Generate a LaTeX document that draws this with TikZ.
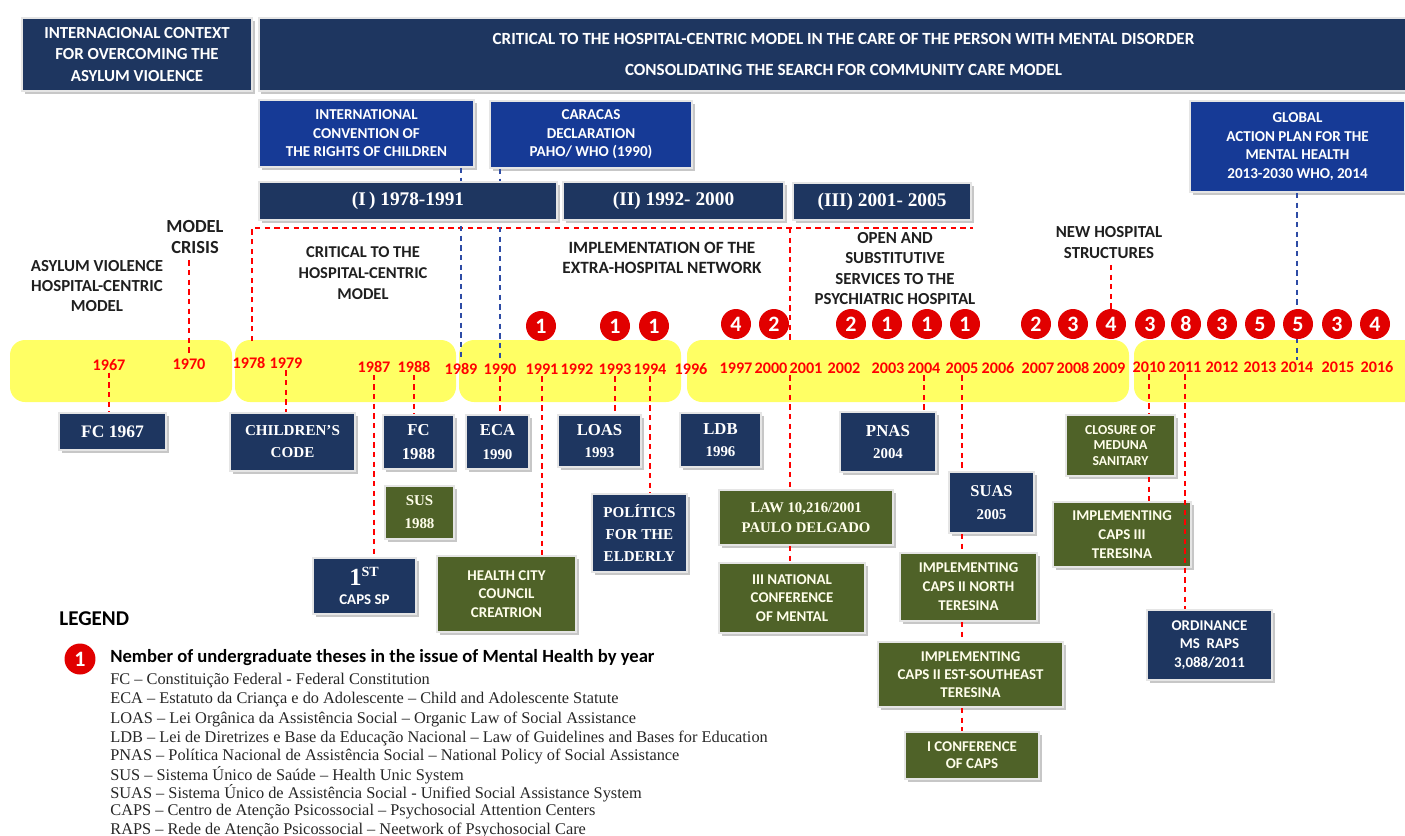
\documentclass[tikz,border=0pt]{standalone}
\usepackage{fontspec}
\setmainfont{Liberation Serif}
\newfontfamily\carl{Carlito}
\usetikzlibrary{shadows}

\definecolor{navy}{RGB}{30,54,96}
\definecolor{royal}{RGB}{22,58,150}
\definecolor{olive}{RGB}{79,98,40}
\definecolor{bandyel}{RGB}{255,255,100}
\definecolor{circred}{RGB}{225,0,0}
\definecolor{yrred}{RGB}{255,0,0}
\definecolor{dashblue}{RGB}{45,75,165}

\begin{document}
\begin{tikzpicture}[x=0.02cm,y=-0.02cm,
  shade box/.style={draw=black!10,line width=1.2pt,
    drop shadow={shadow xshift=1.6pt,shadow yshift=-1.6pt,fill=black!22,opacity=1}},
  head/.style={shade box,fill=navy,text=white,align=center,inner sep=0pt,
    font=\carl\bfseries\fontsize{9.6}{12}\selectfont},
  bluebox/.style={shade box,fill=royal,text=white,align=center,inner sep=0pt,
    font=\carl\bfseries\fontsize{8.6}{10.5}\selectfont},
  period/.style={shade box,fill=navy,text=white,inner sep=0pt,
    font=\bfseries\fontsize{11}{13}\selectfont},
  phase/.style={align=center,text=black!88,font=\carl\bfseries\fontsize{9.6}{11.6}\selectfont},
  yr/.style={text=yrred,inner sep=1pt,font=\carl\bfseries\fontsize{9.2}{10}\selectfont},
  numc/.style={circle,fill=circred,text=white,minimum size=0.6cm,inner sep=0pt,
    font=\carl\bfseries\fontsize{12.5}{12.5}\selectfont},
  evt/.style={shade box,fill=navy,text=white,align=center,inner sep=0pt},
  evtg/.style={evt,fill=olive,text=white!92!yellow},
  serifb/.style={font=\bfseries\fontsize{9}{13}\selectfont},
  sansb/.style={font=\carl\bfseries\fontsize{8.5}{10.4}\selectfont},
  reddash/.style={yrred,line width=0.9pt,dash pattern=on 3pt off 2.5pt},
  bluedash/.style={dashblue,line width=0.9pt,dash pattern=on 3pt off 2.5pt},
  legline/.style={anchor=west,inner sep=0pt,text=black!85,font=\fontsize{9.3}{10}\selectfont}]
\useasboundingbox (0,0) rectangle (1405,835);

% yellow time band
\fill[bandyel,rounded corners=0.3cm] (10,340) rectangle (232,402);
\fill[bandyel,rounded corners=0.3cm] (235,340) rectangle (456,402);
\fill[bandyel,rounded corners=0.3cm] (459,340) rectangle (681,402);
\fill[bandyel,rounded corners=0.3cm] (687,340) rectangle (1129,402);
\fill[bandyel,rounded corners=0.3cm] (1134,340) rectangle (1425,402);

% top boxes
\node[head,minimum width=4.60cm,minimum height=1.46cm] (hdrL) at (137,54.5)
  {INTERNACIONAL CONTEXT\\FOR OVERCOMING THE\\ASYLUM VIOLENCE};
\node[head,minimum width=23.1cm,minimum height=1.46cm,
  font=\carl\bfseries\fontsize{9.7}{17.6}\selectfont] (hdrR) at (836,54.5)
  {\hspace*{0.3cm}CRITICAL TO THE HOSPITAL-CENTRIC MODEL IN THE CARE OF THE PERSON WITH MENTAL DISORDER\\
   \hspace*{0.3cm}CONSOLIDATING THE SEARCH FOR COMMUNITY CARE MODEL};
\node[bluebox,minimum width=4.30cm,minimum height=1.34cm] (conv) at (366.5,133.5)
  {INTERNATIONAL\\CONVENTION OF\\THE RIGHTS OF CHILDREN};
\node[bluebox,minimum width=4.04cm,minimum height=1.34cm] (caracas) at (591,134.5)
  {CARACAS\\DECLARATION\\PAHO/ WHO (1990)};
\node[bluebox,minimum width=4.30cm,minimum height=1.82cm] (global) at (1297.5,146.5)
  {GLOBAL\\ACTION PLAN FOR THE\\MENTAL HEALTH\\2013-2030 WHO, 2014};

% phase labels
\node[phase,font=\carl\bfseries\fontsize{10.5}{12.5}\selectfont] (crisis) at (195,237) {MODEL\\CRISIS};
\node[phase] (asylum) at (97,286) {ASYLUM VIOLENCE\\HOSPITAL-CENTRIC\\MODEL};
\node[phase,font=\carl\bfseries\fontsize{9.4}{12}\selectfont] (crit) at (363,273) {CRITICAL TO THE\\HOSPITAL-CENTRIC\\MODEL};
\node[phase,font=\carl\bfseries\fontsize{9.8}{11.4}\selectfont] (impl) at (662,258) {IMPLEMENTATION OF THE\\EXTRA-HOSPITAL NETWORK};
\node[phase] (openl) at (895,268.5) {OPEN AND\\SUBSTITUTIVE\\SERVICES TO THE\\PSYCHIATRIC HOSPITAL};
\node[phase,font=\carl\bfseries\fontsize{9.6}{12}\selectfont] (newh) at (1109,242.5) {NEW HOSPITAL\\STRUCTURES};

% years
\node[yr] (y1967) at (109,365) {1967};
\node[yr] (y1970) at (189,364) {1970};
\node[yr] (y1978) at (249,363) {1978};
\node[yr] (y1979) at (286,363) {1979};
\node[yr] (y1987) at (374,367) {1987};
\node[yr] (y1988) at (414,367) {1988};
\node[yr] (y1989) at (461,369) {1989};
\node[yr] (y1990) at (500,369) {1990};
\node[yr] (y1991) at (542,369) {1991};
\node[yr] (y1992) at (577,369) {1992};
\node[yr] (y1993) at (615,369) {1993};
\node[yr] (y1994) at (650,369) {1994};
\node[yr] (y1996) at (691,369) {1996};
\node[yr] (y1997) at (736,368) {1997};
\node[yr] (y2000) at (771,368) {2000};
\node[yr] (y2001) at (806,368) {2001};
\node[yr] (y2002) at (844,368) {2002};
\node[yr] (y2003) at (888,368) {2003};
\node[yr] (y2004) at (924,368) {2004};
\node[yr] (y2005) at (962,368) {2005};
\node[yr] (y2006) at (998,368) {2006};
\node[yr] (y2007) at (1038,368) {2007};
\node[yr] (y2008) at (1073,368) {2008};
\node[yr] (y2009) at (1109,368) {2009};
\node[yr] (y2010) at (1149,367) {2010};
\node[yr] (y2011) at (1185,367) {2011};
\node[yr] (y2012) at (1222,367) {2012};
\node[yr] (y2013) at (1260,367) {2013};
\node[yr] (y2014) at (1297,367) {2014};
\node[yr] (y2015) at (1338,367) {2015};
\node[yr] (y2016) at (1377,367) {2016};

% bracket of the periods
\coordinate (bandtop) at (0,341);
\coordinate (brL) at (252,228);
\coordinate (brM) at (790,228);
\coordinate (brR) at (973,228);
\draw[reddash] (brL |- bandtop) -- (brL) -- (brR);
\draw[reddash] (brM) -- (brM |- bandtop);
\draw[reddash] (crisis.south -| y1970) -- (y1970.north);
\draw[bluedash] (conv.south -| y1989) -- (y1989.north);
\draw[bluedash] (caracas.south -| y1990) -- (y1990.north);
\draw[bluedash] (global.south -| y2014) -- (y2014.north);

% period boxes
\node[period,minimum width=5.96cm,minimum height=0.76cm] (per1) at (408,201) {(I\,) 1978-1991};
\node[period,minimum width=4.42cm,minimum height=0.76cm] (per2) at (673.5,201) {(II) 1992- 2000};
\node[period,minimum width=3.56cm,minimum height=0.74cm] (per3) at (882,201.5) {(III) 2001- 2005};

% event boxes
\node[evt,serifb,font=\bfseries\fontsize{10}{12}\selectfont,minimum width=2.14cm,minimum height=0.74cm] (fc67) at (112.5,431.5) {FC 1967};
\node[evt,serifb,font=\bfseries\fontsize{8.6}{12.5}\selectfont,minimum width=2.5cm,minimum height=1.16cm] (ccode) at (292.5,442) {CHILDREN'S\\CODE};
\node[evt,serifb,font=\bfseries\fontsize{9.5}{13.7}\selectfont,minimum width=1.42cm,minimum height=1.08cm] (fc88) at (418.5,442) {FC\\1988};
\node[evt,serifb,font=\bfseries\fontsize{9.5}{13.7}\selectfont,minimum width=1.26cm,minimum height=1.08cm] (eca) at (497.5,442) {ECA\\{\fontsize{8.5}{10}\selectfont 1990}};
\node[evt,serifb,font=\bfseries\fontsize{9.5}{13}\selectfont,minimum width=1.66cm,minimum height=1.04cm] (loas) at (599.5,441) {LOAS\\{\fontsize{8.5}{10}\selectfont 1993}};
\node[evt,serifb,font=\bfseries\fontsize{9.5}{12.5}\selectfont,minimum width=1.62cm,minimum height=1.08cm] (ldb) at (720.5,440) {LDB\\{\fontsize{8.5}{10}\selectfont 1996}};
\node[evt,serifb,font=\bfseries\fontsize{9.6}{13}\selectfont,minimum width=1.92cm,minimum height=1.2cm] (pnas) at (888,442) {PNAS\\{\fontsize{8.5}{10}\selectfont 2004}};
\node[evt,serifb,font=\bfseries\fontsize{9.4}{13}\selectfont,minimum width=1.7cm,minimum height=1.22cm] (suas) at (991.5,502.5) {SUAS\\{\fontsize{8.5}{10}\selectfont 2005}};
\node[evtg,sansb,font=\carl\bfseries\fontsize{7.8}{9}\selectfont,minimum width=2.18cm,minimum height=1.22cm] (closure) at (1120.5,445.5) {CLOSURE OF\\MEDUNA\\SANITARY};
\node[evtg,serifb,font=\bfseries\fontsize{8.5}{13}\selectfont,minimum width=1.38cm,minimum height=1.06cm] (sus) at (419.5,512.5) {SUS\\1988};
\node[evt,minimum width=2.06cm,minimum height=1.12cm] (caps1) at (364.5,586)
  {{\bfseries\fontsize{14}{14}\selectfont 1\textsuperscript{\fontsize{8}{8}\selectfont ST}}\\[-1pt]{\carl\bfseries\fontsize{8.5}{10}\selectfont CAPS SP}};
\node[evtg,sansb,minimum width=2.78cm,minimum height=1.52cm] (health) at (506.5,594) {HEALTH CITY\\COUNCIL\\CREATRION};
\node[evt,serifb,font=\bfseries\fontsize{8.6}{12.5}\selectfont,minimum width=1.9cm,minimum height=1.56cm] (politics) at (639.5,533) {POLÍTICS\\FOR THE\\ELDERLY};
\node[evtg,serifb,font=\bfseries\fontsize{8.4}{11.4}\selectfont,minimum width=3.48cm,minimum height=1.1cm] (law) at (806,517.5) {LAW 10,216/2001\\PAULO DELGADO};
\node[evtg,sansb,minimum width=2.92cm,minimum height=1.4cm] (nat3) at (792,598) {III NATIONAL\\CONFERENCE\\OF MENTAL};
\node[evtg,sansb,font=\carl\bfseries\fontsize{8.5}{10.8}\selectfont,minimum width=2.74cm,minimum height=1.36cm] (capsN) at (968.5,587) {IMPLEMENTING\\CAPS II NORTH\\TERESINA};
\node[evtg,sansb,minimum width=3.7cm,minimum height=1.3cm] (capsSE) at (970.5,674.5) {IMPLEMENTING\\CAPS II EST-SOUTHEAST\\TERESINA};
\node[evtg,sansb,font=\carl\bfseries\fontsize{8.5}{9.7}\selectfont,minimum width=2.68cm,minimum height=0.94cm] (conf1) at (972,755.5) {I CONFERENCE\\OF CAPS};
\node[evtg,sansb,font=\carl\bfseries\fontsize{8.5}{10.8}\selectfont,minimum width=2.76cm,minimum height=1.3cm] (caps3) at (1122,534.5) {IMPLEMENTING\\CAPS III\\TERESINA};
\node[evt,sansb,minimum width=2.5cm,minimum height=1.4cm] (ord) at (1209.5,645) {ORDINANCE\\MS\ \ RAPS\\3,088/2011};

% links from the years to the events
\draw[reddash] (y1967.south) -- (y1967.south |- fc67.north);
\draw[reddash] (y1979.south) -- (y1979.south |- ccode.north);
\draw[reddash] (y1987.south) -- (y1987.south |- caps1.north);
\draw[reddash] (y1988.south) -- (y1988.south |- fc88.north);
\draw[reddash] (y1990.south) -- (y1990.south |- eca.north);
\draw[reddash] (y1991.south) -- (y1991.south |- health.north);
\draw[reddash] (y1993.south) -- (y1993.south |- loas.north);
\draw[reddash] (y1994.south) -- (y1994.south |- politics.north);
\draw[reddash] (brM |- y2001.south) -- (brM |- law.north);
\draw[reddash] (law.south -| brM) -- (nat3.north -| brM);
\draw[reddash] (y2004.south) -- (y2004.south |- pnas.north);
\draw[reddash] (y2005.south) -- (y2005.south |- suas.north);
\draw[reddash] (suas.south -| y2005) -- (capsN.north -| y2005);
\draw[reddash] (capsN.south -| y2005) -- (capsSE.north -| y2005);
\draw[reddash] (capsSE.south -| y2005) -- (conf1.north -| y2005);
\draw[reddash] (y2010.south) -- (y2010.south |- closure.north);
\draw[reddash] (closure.south -| y2010) -- (caps3.north -| y2010);
\draw[reddash] (y2011.south) -- (y2011.south |- ord.north);

% number of theses by year
\node[numc] (n1991) at (541,326) {1};
\node[numc] (n1993) at (615,326) {1};
\node[numc] (n1994) at (654,326) {1};
\node[numc] (n1997) at (736,324) {4};
\node[numc] (n2000) at (774,324) {2};
\node[numc] (n2002) at (851,324) {2};
\node[numc] (n2003) at (887,324) {1};
\node[numc] (n2004) at (927,324) {1};
\node[numc] (n2005) at (965,324) {1};
\node[numc] (n2007) at (1036,324) {2};
\node[numc] (n2008) at (1073,324) {3};
\node[numc] (n2009) at (1111,324) {4};
\node[numc] (n2010) at (1150,324) {3};
\node[numc] (n2011) at (1186,324) {8};
\node[numc] (n2012) at (1222,324) {3};
\node[numc] (n2013) at (1260,324) {5};
\node[numc] (n2014) at (1298,324) {5};
\node[numc] (n2015) at (1337,324) {3};
\node[numc] (n2016) at (1375,324) {4};
\draw[reddash] (newh.south -| n2009) -- (n2009.north);

% legend
\node[anchor=west,inner sep=0pt,font=\carl\bfseries\fontsize{12}{12}\selectfont] (leg) at (59,619) {LEGEND};
\node[numc,minimum size=0.62cm] (legc) at (80,659) {1};
\node[anchor=west,inner sep=0pt,font=\carl\bfseries\fontsize{10.6}{11}\selectfont] (legt) at (110,658)
  {Nember of undergraduate theses in the issue of Mental Health by year};
\node[legline] (l1) at (110,681) {FC – Constituição Federal - Federal Constitution};
\node[legline] (l2) at (110,700) {ECA – Estatuto da Criança e do Adolescente – Child and Adolescente Statute};
\node[legline] (l3) at (110,719) {LOAS – Lei Orgânica da Assistência Social – Organic Law of Social Assistance};
\node[legline] (l4) at (110,738) {LDB – Lei de Diretrizes e Base da Educação Nacional – Law of Guidelines and Bases for Education};
\node[legline] (l5) at (110,756) {PNAS – Política Nacional de Assistência Social – National Policy of Social Assistance};
\node[legline] (l6) at (110,775) {SUS – Sistema Único de Saúde – Health Unic System};
\node[legline] (l7) at (110,793) {SUAS – Sistema Único de Assistência Social - Unified Social Assistance System};
\node[legline] (l8) at (110,812) {CAPS – Centro de Atenção Psicossocial – Psychosocial Attention Centers};
\node[legline] (l9) at (110,830) {RAPS – Rede de Atenção Psicossocial – Neetwork of Psychosocial Care};
\end{tikzpicture}
\end{document}
